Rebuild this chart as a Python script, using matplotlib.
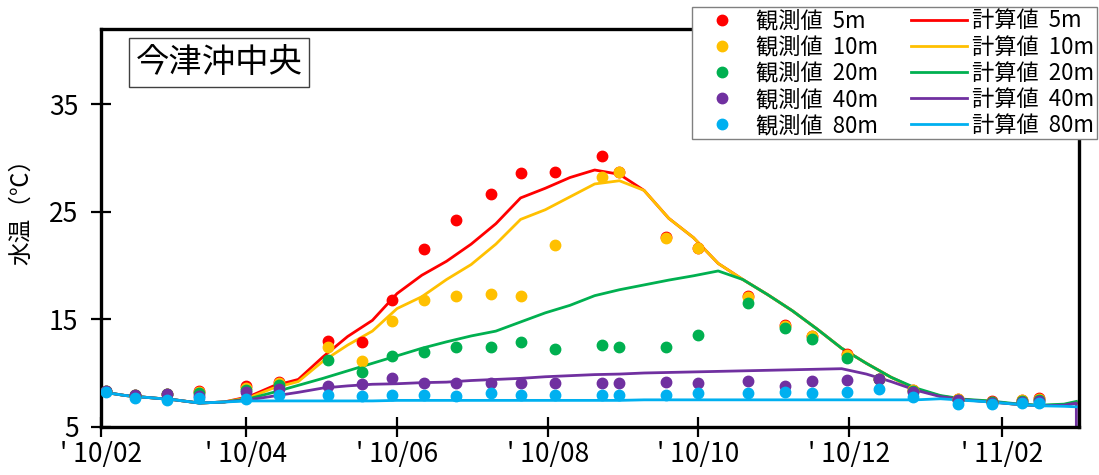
import matplotlib
matplotlib.use("Agg")
import matplotlib.pyplot as plt
import matplotlib.dates as mdates
import numpy as np

plt.rcParams['font.family'] = ['Noto Sans CJK JP', 'DejaVu Sans']

# observed values (観測値)
obs_dates = ['2010-02-03', '2010-02-15', '2010-02-28', '2010-03-13', '2010-04-01', '2010-04-14',
             '2010-05-04', '2010-05-18', '2010-05-30', '2010-06-12', '2010-06-25', '2010-07-09',
             '2010-07-21', '2010-08-04', '2010-08-23', '2010-08-30', '2010-09-18', '2010-10-01',
             '2010-10-21', '2010-11-05', '2010-11-16', '2010-11-30', '2010-12-13', '2010-12-27',
             '2011-01-14', '2011-01-28', '2011-02-09', '2011-02-16']
obs_5m = [8.3, 7.95, 8.0, 8.3, 8.75, 9.2, 13.0, 12.9, 16.8, 21.5, 24.2, 26.7, 28.6, 28.7,
          30.2, 28.75, 22.65, 21.6, 17.2, 14.45, 13.45, 11.75, 9.45, 8.45, 7.6, 7.35, 7.5, 7.65]
obs_10m = [8.3, 7.95, 8.0, 8.2, 8.6, 9.05, 12.45, 11.1, 14.8, 16.8, 17.2, 17.35, 17.2, 21.9,
           28.25, 28.7, 22.6, 21.6, 17.1, 14.4, 13.4, 11.65, 9.45, 8.4, 7.55, 7.3, 7.45, 7.55]
obs_20m = [8.3, 7.95, 8.0, 8.1, 8.45, 8.9, 11.2, 10.1, 11.6, 12.0, 12.4, 12.4, 12.85, 12.2,
           12.6, 12.4, 12.4, 13.55, 16.5, 14.2, 13.2, 11.4, 9.45, 8.3, 7.5, 7.3, 7.4, 7.45]
obs_40m = [8.3, 7.95, 8.0, 7.9, 8.25, 8.5, 8.8, 8.95, 9.5, 9.05, 9.1, 9.1, 9.05, 9.05,
           9.05, 9.05, 9.15, 9.05, 9.3, 8.8, 9.25, 9.35, 9.4, 8.2, 7.45, 7.2, 7.3, 7.35]
obs_80m = [8.25, 7.7, 7.5, 7.65, 7.6, 7.95, 7.95, 7.9, 7.95, 7.95, 7.9, 8.1, 7.95, 7.95,
           7.95, 7.95, 7.95, 8.1, 8.1, 8.2, 8.15, 8.25, 8.5, 7.8, 7.1, 7.1, 7.25, 7.25]

# calculated values (計算値)
calc_dates = ['2010-02-01', '2010-02-11', '2010-02-21', '2010-03-03', '2010-03-13', '2010-03-23',
              '2010-04-02', '2010-04-12', '2010-04-22', '2010-05-02', '2010-05-12', '2010-05-22',
              '2010-06-01', '2010-06-11', '2010-06-21', '2010-07-01', '2010-07-11', '2010-07-21',
              '2010-07-31', '2010-08-10', '2010-08-20', '2010-08-30', '2010-09-09', '2010-09-19',
              '2010-09-29', '2010-10-09', '2010-10-19', '2010-10-29', '2010-11-08', '2010-11-18',
              '2010-11-28', '2010-12-08', '2010-12-18', '2010-12-28', '2011-01-07', '2011-01-17',
              '2011-01-27', '2011-02-06', '2011-02-16', '2011-02-26', '2011-03-03', '2011-03-03']
calc_5m = [8.26, 7.9, 7.7, 7.5, 7.2, 7.3, 7.8, 8.8, 9.4, 11.5, 13.4, 14.9, 17.4, 19.1,
           20.4, 22.0, 23.9, 26.3, 27.2, 28.2, 28.9, 28.5, 27.0, 24.4, 22.6, 20.2, 18.7, 17.3,
           15.8, 14.1, 12.3, 10.9, 9.6, 8.5, 7.85, 7.5, 7.35, 7.1, 6.95, 7.0, 7.2, 7.2]
calc_10m = [8.26, 7.9, 7.7, 7.5, 7.2, 7.3, 7.7, 8.6, 9.2, 11.1, 12.6, 13.9, 16.0, 17.1,
            18.7, 20.1, 22.0, 24.3, 25.2, 26.4, 27.6, 27.9, 27.0, 24.4, 22.6, 20.2, 18.7, 17.3,
            15.8, 14.1, 12.3, 10.9, 9.6, 8.5, 7.85, 7.5, 7.35, 7.1, 6.95, 7.05, 7.3, 7.3]
calc_20m = [8.26, 7.9, 7.7, 7.5, 7.2, 7.3, 7.6, 8.2, 8.85, 9.5, 10.2, 10.9, 11.6, 12.3,
            12.9, 13.45, 13.9, 14.75, 15.6, 16.3, 17.2, 17.75, 18.2, 18.65, 19.05, 19.5, 18.7, 17.3,
            15.8, 14.1, 12.3, 10.9, 9.6, 8.6, 7.9, 7.55, 7.4, 7.15, 7.0, 7.1, 7.35, 7.35]
calc_40m = [8.26, 7.9, 7.7, 7.5, 7.2, 7.3, 7.5, 7.85, 8.2, 8.6, 8.8, 8.95, 9.0, 9.1,
            9.15, 9.3, 9.4, 9.5, 9.65, 9.75, 9.85, 9.9, 10.0, 10.05, 10.1, 10.15, 10.2, 10.25,
            10.3, 10.35, 10.4, 9.9, 9.2, 8.4, 7.8, 7.5, 7.3, 7.1, 6.95, 7.0, 7.2, 4.5]
calc_80m = [8.26, 7.9, 7.7, 7.5, 7.2, 7.3, 7.4, 7.4, 7.4, 7.4, 7.4, 7.4, 7.45, 7.45,
            7.45, 7.45, 7.45, 7.45, 7.45, 7.45, 7.45, 7.45, 7.5, 7.5, 7.5, 7.5, 7.5, 7.5,
            7.5, 7.5, 7.5, 7.5, 7.5, 7.5, 7.6, 7.45, 7.3, 7.1, 6.95, 6.9, 6.85, 6.85]

depths = ['5m', '10m', '20m', '40m', '80m']
colors = ['#FF0000', '#FFC000', '#00B050', '#7030A0', '#00B0F0']
obs_all = [obs_5m, obs_10m, obs_20m, obs_40m, obs_80m]
calc_all = [calc_5m, calc_10m, calc_20m, calc_40m, calc_80m]

obs_t = np.array(obs_dates, dtype='datetime64[D]')
calc_t = np.array(calc_dates, dtype='datetime64[D]')

fig = plt.figure(figsize=(10.99, 4.75), dpi=100)
ax = fig.add_axes([0.0916, 0.1017, 0.8905, 0.8366])

obs_handles = []
calc_handles = []
for d, c, vals in zip(depths, colors, calc_all):
    h, = ax.plot(calc_t, vals, color=c, lw=2, zorder=2, label='計算値  ' + d)
    calc_handles.append(h)
for d, c, vals in zip(depths, colors, obs_all):
    h, = ax.plot(obs_t, vals, 'o', color=c, ms=7.5, ls='none', zorder=3, label='観測値  ' + d)
    obs_handles.append(h)

ax.set_xlim(np.datetime64('2010-02-01'), np.datetime64('2011-03-04T05:00'))
ax.set_ylim(5, 42)
ax.set_yticks([5, 15, 25, 35])
ax.xaxis.set_major_locator(mdates.MonthLocator(bymonth=[2, 4, 6, 8, 10, 12]))
ax.xaxis.set_major_formatter(mdates.DateFormatter("' %y/%m"))
ax.tick_params(direction='inout', length=14, width=1.6, labelsize=19)
ax.tick_params(axis='x', pad=3)
ax.tick_params(axis='y', pad=9)
for s in ax.spines.values():
    s.set_linewidth(2.4)

ax.set_ylabel('水温（℃）', fontsize=17)
ax.yaxis.set_label_coords(-0.069, 0.556)

fig.text(0.1993, 0.8684, '今津沖中央', ha='center', va='center', fontsize=24,
         bbox=dict(boxstyle='square,pad=0.2', fc='white', ec='#404040', lw=1))

leg = fig.legend(obs_handles + calc_handles,
                 [h.get_label() for h in obs_handles + calc_handles],
                 ncol=2, loc='upper right', bbox_to_anchor=(0.998, 0.985),
                 borderaxespad=0, fontsize=16, fancybox=False, edgecolor='#808080',
                 framealpha=1, borderpad=0.1, labelspacing=0.145, handlelength=2.5,
                 handletextpad=0.25, columnspacing=1.5)
leg.get_frame().set_linewidth(1)

fig.savefig('out.png', dpi=100)
